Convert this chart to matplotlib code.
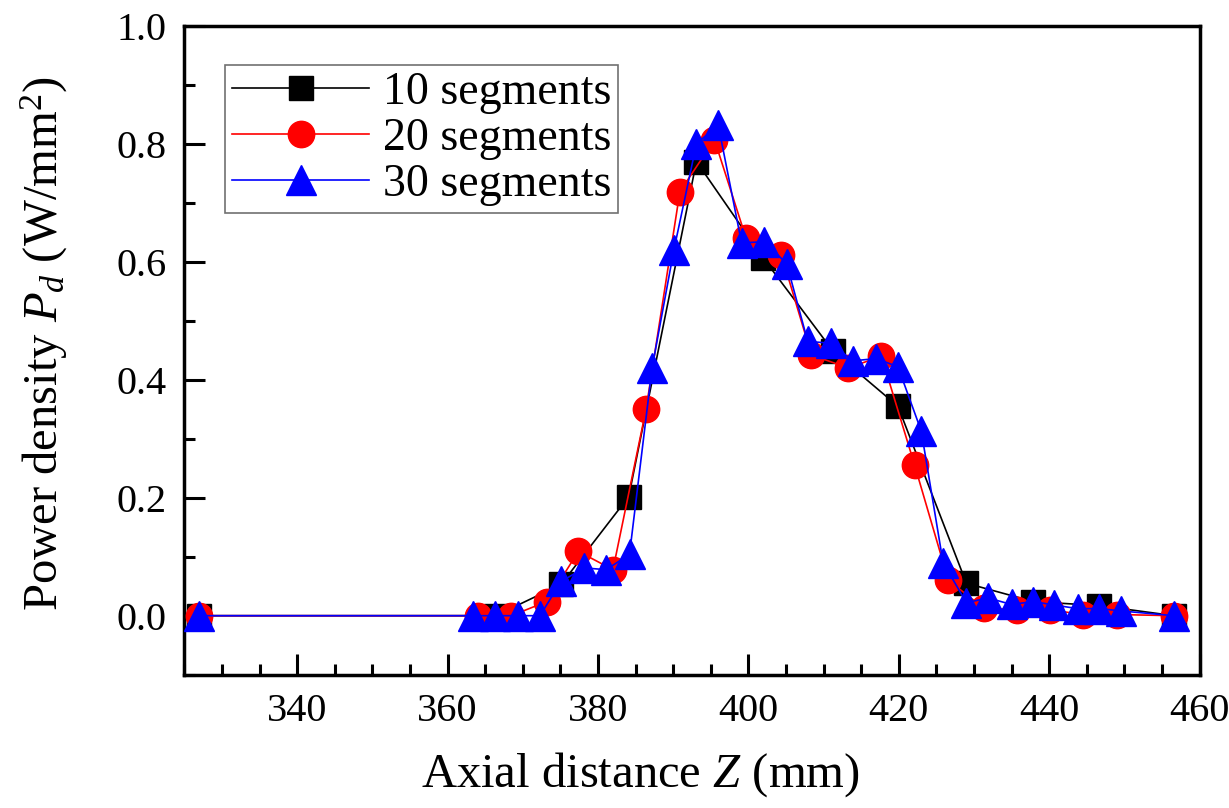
import numpy as np
import matplotlib
matplotlib.use("Agg")
import matplotlib.pyplot as plt
from matplotlib.ticker import MultipleLocator

plt.rcParams['font.family'] = ['Liberation Serif', 'DejaVu Serif']
plt.rcParams['mathtext.fontset'] = 'custom'
plt.rcParams['mathtext.rm'] = 'Liberation Serif'
plt.rcParams['mathtext.it'] = 'Liberation Serif:italic'

# 10 segments
z10 = [327.0, 366.4, 375.1, 384.1, 393.1, 402.0, 411.3, 419.9, 429.0, 437.9, 446.7, 456.6]
p10 = [0.0, 0.0, 0.053, 0.202, 0.770, 0.606, 0.448, 0.355, 0.055, 0.024, 0.017, 0.0]

# 20 segments
z20 = [327.0, 364.1, 368.5, 373.2, 377.4, 382.0, 386.4, 390.9, 395.5, 399.7, 404.4,
       408.4, 413.3, 417.7, 422.1, 426.6, 431.3, 435.7, 440.1, 444.5, 449.0, 456.6]
p20 = [0.0, 0.0, 0.0, 0.024, 0.109, 0.078, 0.350, 0.719, 0.807, 0.640, 0.612,
       0.442, 0.420, 0.440, 0.256, 0.060, 0.013, 0.010, 0.010, 0.002, 0.002, 0.0]

# 30 segments
z30 = [327.0, 363.4, 366.3, 369.4, 372.3, 375.1, 378.2, 381.1, 384.2, 387.2, 390.1,
       393.1, 396.0, 399.1, 402.1, 405.1, 407.9, 411.0, 413.9, 417.0, 419.9, 423.0,
       425.9, 429.0, 431.9, 435.0, 437.9, 440.7, 443.8, 446.7, 449.6, 456.6]
p30 = [0.0, 0.0, 0.0, 0.0, 0.0, 0.058, 0.081, 0.078, 0.104, 0.420, 0.620,
       0.800, 0.832, 0.632, 0.634, 0.597, 0.465, 0.462, 0.432, 0.436, 0.422, 0.313,
       0.090, 0.022, 0.030, 0.019, 0.024, 0.018, 0.012, 0.012, 0.008, 0.0]

fig = plt.figure(figsize=(12.29, 8.08), dpi=100)
ax = fig.add_axes([0.150, 0.165, 0.826, 0.803])

ax.plot(z10, p10, color='black', lw=1.2, marker='s', ms=17, label='10 segments', zorder=3)
ax.plot(z20, p20, color='red', lw=1.2, marker='o', ms=19, label='20 segments', zorder=4)
ax.plot(z30, p30, color='blue', lw=1.2, marker='^', ms=21, label='30 segments', zorder=5)

ax.set_xlim(325, 460)
ax.set_ylim(-0.1, 1.0)
ax.xaxis.set_major_locator(MultipleLocator(20))
ax.xaxis.set_minor_locator(MultipleLocator(5))
ax.yaxis.set_major_locator(MultipleLocator(0.2))
ax.yaxis.set_minor_locator(MultipleLocator(0.1))
ax.yaxis.set_major_formatter(matplotlib.ticker.FormatStrFormatter('%.1f'))

ax.tick_params(which='both', direction='in', top=False, right=False, width=2.2,
               labelsize=29, pad=13)
ax.tick_params(which='major', length=15)
ax.tick_params(which='minor', length=8)
for s in ax.spines.values():
    s.set_linewidth(2.5)

ax.set_xlabel('Axial distance $Z$ (mm)', fontsize=35, va='center')
ax.xaxis.set_label_coords(0.449, -0.154)
ax.set_ylabel('Power density $P_d$ (W/mm$^2$)', fontsize=35)
ax.yaxis.set_label_coords(-0.113, 0.51)

leg = ax.legend(loc='upper left', bbox_to_anchor=(0.04, 0.94), fontsize=33,
                frameon=True, fancybox=False, edgecolor='0.3', handlelength=3.0,
                borderpad=0.15, labelspacing=0.08, handletextpad=0.3,
                borderaxespad=0)
leg.get_frame().set_linewidth(1.2)

fig.savefig('out.png', dpi=100)
